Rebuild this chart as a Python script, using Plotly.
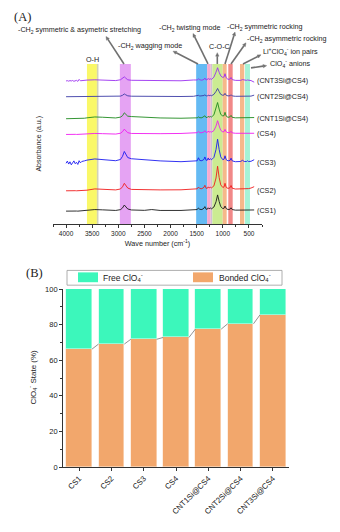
import math
import plotly.graph_objects as go

# ---------------- FTIR spectra (panel A) ----------------
WAVENUMBER = [4000, 3975, 3950, 3925, 3900, 3875, 3850, 3825, 3800, 3775, 3750, 3725, 3700, 3650,
              3600, 3450, 3300, 3050, 2960, 2920, 2885, 2860, 2820, 2750, 2500, 2360, 2340, 2200,
              1800, 1560, 1490, 1467, 1440, 1400, 1360, 1343, 1320, 1295, 1280, 1262, 1240, 1215,
              1170, 1130, 1100, 1070, 1040, 1000, 975, 958, 935, 900, 860, 842, 820, 760, 660, 624,
              590, 545, 530, 510, 460, 400]

CS1 = [0, 0.1, 0, 0.1, 0, 0, 0.1, 0, 0.1, 0, 0.1, 0, 0.1, 0.2,
       0.4, 1.6, 1.3, 0.7, 1.5, 3.2, 6.2, 4.8, 2.2, 1.2, 0.8, 1.6, 1.4, 0.7,
       0.7, 1.0, 1.6, 3.2, 1.8, 1.6, 3.0, 4.6, 1.9, 2.0, 3.4, 2.4, 3.2, 2.4,
       4.2, 9.5, 16.5, 9.8, 4.6, 2.6, 3.0, 5.2, 2.6, 1.6, 2.0, 3.4, 1.6, 1.0, 1.0, 1.5,
       1.0, 1.0, 1.2, 1.0, 1.0, 1.2]
CS2 = [0, 0.1, 0, 0.1, 0.1, 0, 0.1, 0.1, 0, 0.1, 0.1, 0.2, 0.2, 0.3,
       0.6, 1.9, 1.6, 0.9, 1.8, 4.0, 7.6, 6.0, 2.8, 1.4, 0.9, 1.0, 1.0, 0.9,
       1.0, 1.4, 2.0, 3.8, 2.3, 2.1, 3.6, 5.6, 2.5, 2.6, 4.0, 2.9, 3.6, 3.0,
       5.0, 13.0, 25.0, 13.5, 6.0, 3.4, 4.0, 7.6, 3.4, 2.4, 3.2, 5.4, 2.6, 1.8, 1.8, 2.4,
       1.9, 2.0, 2.2, 2.2, 2.8, 4.2]
CS3 = [0, 2.2, -0.8, 1.5, -1.6, 0.9, 2.4, -0.5, 1.0, -1.2, 2.6, 0.4, 1.8, 2.4,
       3.2, 4.4, 3.8, 2.6, 3.8, 7.0, 12.0, 9.5, 5.8, 4.6, 3.4, 2.8, 2.8, 2.4,
       1.6, 2.6, 2.5, 5.6, 2.8, 2.6, 4.0, 6.4, 3.0, 3.2, 5.4, 3.4, 4.6, 3.6,
       6.0, 14.0, 24.5, 14.0, 6.5, 3.6, 4.2, 7.6, 3.6, 2.4, 3.0, 5.2, 2.4, 1.6, 1.8, 3.0,
       1.8, 1.8, 2.6, 1.8, 2.0, 3.6]
CS4 = [0, 0.1, 0, 0.1, 0, 0.1, 0, 0.1, 0, 0.1, 0, 0.1, 0.1, 0.2,
       0.3, 1.0, 0.8, 0.4, 1.2, 2.8, 5.4, 4.0, 1.8, 1.0, 0.8, 0.8, 0.8, 0.8,
       1.0, 1.4, 1.8, 3.0, 1.8, 1.8, 2.6, 3.8, 2.0, 2.2, 3.4, 2.4, 2.8, 2.4,
       4.0, 8.5, 14.0, 8.6, 4.2, 2.6, 3.0, 5.2, 2.6, 1.8, 2.0, 3.2, 1.6, 1.2, 1.0, 1.4,
       1.0, 1.0, 1.2, 1.0, 1.0, 1.2]
CNT1SI = [0, 0, 0.1, 0, 0.1, 0, 0.1, 0, 0.1, 0.1, 0.2, 0.2, 0.3, 0.5,
          0.9, 1.8, 1.5, 0.8, 1.6, 3.0, 6.0, 4.6, 2.6, 2.2, 1.4, 1.0, 1.0, 0.8,
          0.5, 0.8, 0.9, 1.8, 1.0, 1.0, 2.0, 3.0, 1.2, 1.4, 2.4, 1.6, 2.2, 1.8,
          4.0, 10.0, 16.5, 9.8, 4.4, 2.8, 3.2, 6.5, 2.6, 1.4, 2.0, 3.4, 1.4, 0.9, 0.9, 1.2,
          0.9, 0.9, 1.0, 1.0, 1.0, 1.2]
CNT2SI = [0, 0, 0.1, 0, 0, 0.1, 0, 0, 0.1, 0, 0, 0.1, 0.1, 0.2,
          0.3, 0.6, 0.5, 0.2, 0.6, 1.4, 2.8, 2.0, 0.9, 0.5, 0.3, 0.3, 0.3, 0.3,
          0.2, 0.4, 0.6, 1.4, 0.7, 0.6, 1.2, 2.0, 0.8, 0.9, 1.6, 1.0, 1.4, 1.0,
          2.4, 5.4, 8.4, 5.2, 2.4, 1.4, 1.8, 3.4, 1.4, 0.8, 1.0, 2.0, 0.8, 0.4, 0.4, 0.6,
          0.4, 0.3, 0.4, 0.4, 0.6, 1.6]
CNT3SI = [0, 0.3, -0.2, 0.4, 0, 0.5, -0.3, 0.2, 0.6, -0.4, 1.6, 0.2, 0.4, 0.6,
          0.9, 1.2, 0.9, 0.4, 1.2, 2.4, 4.2, 3.0, 1.2, 0.7, 0.4, 0.5, 0.5, 0.4,
          0.2, 1.0, 1.0, 2.2, 1.2, 0.8, 1.6, 3.0, 1.0, 1.4, 2.6, 1.6, 2.2, 1.6,
          4.0, 9.0, 13.5, 8.8, 5.2, 3.6, 4.2, 7.4, 3.2, 1.6, 2.0, 3.6, 1.4, 0.6, 0.6, 1.4,
          0.8, 0.6, 1.0, 0.8, 0.4, -1.2]

SPECTRA_NAMES = ["CS1", "CS2", "CS3", "CS4", "CNT1Si@CS4", "CNT2Si@CS4", "CNT3Si@CS4"]
SPECTRA = [CS1, CS2, CS3, CS4, CNT1SI, CNT2SI, CNT3SI]
STACK_OFFSETS = [13.3, 34.0, 62.0, 91.3, 107.3, 129.7, 145.7]
SPECTRA_COLORS = ["#1a1a1a", "#f01c1c", "#1c1cf0", "#f01cf0", "#1e8a1e", "#3b3ba6", "#9b30f0"]

# assignment bands: (high, low, colour)
BANDS = [
    (3600, 3410, "rgba(250,248,95,0.95)"),
    (3410, 3380, "rgba(205,205,175,0.9)"),
    (2970, 2760, "rgba(228,158,242,0.95)"),
    (1510, 1300, "rgba(92,182,242,0.95)"),
    (1300, 1232, "rgba(246,166,204,0.95)"),
    (1232, 1201, "rgba(205,190,210,0.95)"),
    (1200, 1002, "rgba(200,234,140,0.95)"),
    (1002, 926, "rgba(246,180,132,0.95)"),
    (895, 811, "rgba(240,130,130,0.95)"),
    (671, 589, "rgba(246,180,132,0.95)"),
    (575, 480, "rgba(160,242,212,0.95)"),
]

# ---------------- ClO4- states (panel B) ----------------
SAMPLES = ["CS1", "CS2", "CS3", "CS4", "CNT1Si@CS4", "CNT2Si@CS4", "CNT3Si@CS4"]
BONDED = [66.3, 69.1, 71.8, 72.8, 77.5, 80.5, 85.5]
FREE = [33.7, 30.9, 28.2, 27.2, 22.5, 19.5, 14.5]

BONDED_COLOR = "#f2a76c"
FREE_COLOR = "#3cf7bb"
W, H = 340, 532
SANS = "Liberation Sans, Arial, sans-serif"
SERIF = "Liberation Serif, Times New Roman, serif"
INK = "#333333"
LEADER = "#707070"

fig = go.Figure()

for name, vals, off, col in zip(SPECTRA_NAMES, SPECTRA, STACK_OFFSETS, SPECTRA_COLORS):
    fig.add_trace(go.Scatter(
        x=WAVENUMBER, y=[off + v for v in vals], mode="lines", name=name,
        line=dict(color=col, width=0.9), xaxis="x", yaxis="y", showlegend=False,
    ))

BAR_WIDTH = 0.8
idx = list(range(len(SAMPLES)))
fig.add_trace(go.Bar(x=idx, y=BONDED, name="Bonded", marker=dict(color=BONDED_COLOR, line=dict(color="#fbe3cf", width=0.6)),
                     width=BAR_WIDTH, xaxis="x2", yaxis="y2", showlegend=False))
fig.add_trace(go.Bar(x=idx, y=FREE, name="Free", marker=dict(color=FREE_COLOR, line=dict(color="#c9fbe9", width=0.6)),
                     width=BAR_WIDTH, xaxis="x2", yaxis="y2", showlegend=False))

# connectors between neighbouring bonded-bar tops
cx, cy = [], []
for i in range(len(SAMPLES) - 1):
    cx += [i + BAR_WIDTH / 2, i + 1 - BAR_WIDTH / 2, None]
    cy += [BONDED[i], BONDED[i + 1], None]
fig.add_trace(go.Scatter(x=cx, y=cy, mode="lines", line=dict(color="#777777", width=0.8),
                         xaxis="x2", yaxis="y2", showlegend=False, hoverinfo="skip"))

shapes = []
for hi, lo, col in BANDS:
    shapes.append(dict(type="rect", xref="x", yref="y domain", x0=hi, x1=lo, y0=0, y1=1,
                       fillcolor=col, line=dict(width=0), layer="below"))


def px(x):
    return x / W


def py(y):
    return 1 - y / H


# legend frame for panel B
shapes.append(dict(type="rect", xref="paper", yref="paper", x0=px(67), x1=px(282), y0=py(286), y1=py(271),
                   line=dict(color="#9a9a9a", width=0.8), fillcolor="white"))
shapes.append(dict(type="rect", xref="paper", yref="paper", x0=px(78), x1=px(98), y0=py(283), y1=py(273),
                   line=dict(width=0), fillcolor=FREE_COLOR))
shapes.append(dict(type="rect", xref="paper", yref="paper", x0=px(193), x1=px(213), y0=py(283), y1=py(273),
                   line=dict(width=0), fillcolor=BONDED_COLOR))

# leader arrows from band tops to their labels: (head x, head y, tail x, tail y) in page pixels
LEADERS = [
    (106, 33, 124, 61),
    (173, 48, 198, 61),
    (193, 30, 208, 61),
    (217.3, 49.5, 217.3, 61),
    (235, 28.5, 225, 61),
    (246, 39.5, 231, 61),
    (261, 51.7, 243, 61),
    (266.7, 62.7, 251, 65),
]
HEAD_LEN, HEAD_HALF = 3.6, 1.7


def pt(x, y):
    return f"{px(x):.5f},{py(y):.5f}"


# stems on a page-sized overlay axis (pixel units, y downward); heads as small triangles
sx, sy = [], []
for hx, hy, tx, ty in LEADERS:
    d = math.hypot(hx - tx, hy - ty)
    ux, uy = (hx - tx) / d, (hy - ty) / d
    bx, by = hx - HEAD_LEN * ux, hy - HEAD_LEN * uy
    sx += [tx, bx, None]
    sy += [ty, by, None]
    p1 = (bx - HEAD_HALF * uy, by + HEAD_HALF * ux)
    p2 = (bx + HEAD_HALF * uy, by - HEAD_HALF * ux)
    shapes.append(dict(type="path", xref="paper", yref="paper", layer="above",
                       path=f"M {pt(hx, hy)} L {pt(*p1)} L {pt(*p2)} Z",
                       fillcolor=LEADER, line=dict(color=LEADER, width=0.4)))
fig.add_trace(go.Scatter(x=sx, y=sy, mode="lines", line=dict(color=LEADER, width=1.6),
                         xaxis="x3", yaxis="y3", showlegend=False, hoverinfo="skip"))

ann = []


def text(t, x, y, size=7.2, anchor="left", font=SANS, angle=0, color="#222222"):
    ann.append(dict(text=t, x=px(x), y=py(y), xref="paper", yref="paper", showarrow=False,
                    xanchor=anchor, yanchor="middle", textangle=angle,
                    font=dict(family=font, size=size, color=color)))


text("(A)", 12, 13, size=12.5, font=SERIF)
text("(B)", 24, 274, size=12.5, font=SERIF)
text("-CH<sub>2</sub> symmetric & asymetric stretching", 16, 26)
text("-CH<sub>2</sub> wagging mode", 116, 43)
text("-CH<sub>2</sub> twisting mode", 157, 24)
text("C-O-C", 219, 43.5, anchor="center")
text("-CH<sub>2</sub> symmetric rocking", 225, 23)
text("-CH<sub>2</sub> asymmetric rocking", 245, 36)
text("Li<sup>+</sup>ClO<sub>4</sub><sup>-</sup> ion pairs", 261, 48.5)
text("ClO<sub>4</sub><sup>-</sup> anions", 268, 61)
text("O-H", 92.5, 56, anchor="center")
text("Absorbance (a.u.)", 39, 142, size=7, anchor="center", angle=-90)
text("ClO<sub>4</sub><sup>-</sup> State (%)", 33, 380, size=8, anchor="center", angle=-90)
text("Free ClO<sub>4</sub><sup>-</sup>", 101, 278.5, size=8.5)
text("Bonded ClO<sub>4</sub><sup>-</sup>", 217, 278.5, size=8.5)

for name, off in zip(SPECTRA_NAMES, STACK_OFFSETS):
    ann.append(dict(text=f"({name})", x=388, y=off + 0.5, xref="x", yref="y", showarrow=False,
                    xanchor="left", yanchor="middle", font=dict(family=SANS, size=7.2, color="#222222")))

axis_common = dict(showline=True, linecolor=INK, linewidth=0.8, ticks="outside", ticklen=3,
                   tickwidth=0.8, tickcolor=INK, showgrid=False, zeroline=False)

fig.update_layout(
    width=W, height=H, margin=dict(l=0, r=0, t=0, b=0),
    paper_bgcolor="white", plot_bgcolor="rgba(0,0,0,0)", showlegend=False, barmode="stack", bargap=0,
    font=dict(family=SANS, color="#222222"),
    xaxis=dict(domain=[53 / W, 262 / W], range=[4250, 250], anchor="y",
               tickvals=[4000, 3500, 3000, 2500, 2000, 1500, 1000, 500],
               tickfont=dict(size=6.5), minor=dict(dtick=250, tick0=0, ticks="outside", ticklen=2,
                                                   tickcolor=INK, tickwidth=0.6),
               title=dict(text="Wave number (cm<sup>-1</sup>)", font=dict(size=7.2), standoff=5),
               **axis_common),
    yaxis=dict(domain=[py(224), py(61)], range=[0, 163], anchor="x", visible=False),
    xaxis2=dict(domain=[63 / W, 289 / W], range=[-0.5, 6.5], anchor="y2",
                tickvals=idx, ticktext=SAMPLES, tickangle=-45, tickfont=dict(size=7.8),
                **axis_common),
    yaxis2=dict(domain=[py(471), py(290)], range=[0, 100], anchor="x2", dtick=20,
                tickfont=dict(size=7.5),
                minor=dict(dtick=10, ticks="outside", ticklen=2, tickcolor=INK, tickwidth=0.6),
                **axis_common),
    xaxis3=dict(domain=[0, 1], range=[0, W], anchor="y3", visible=False, fixedrange=True),
    yaxis3=dict(domain=[0, 1], range=[H, 0], anchor="x3", visible=False, fixedrange=True),
    shapes=shapes,
    annotations=ann,
)

fig.write_html("out.html")
